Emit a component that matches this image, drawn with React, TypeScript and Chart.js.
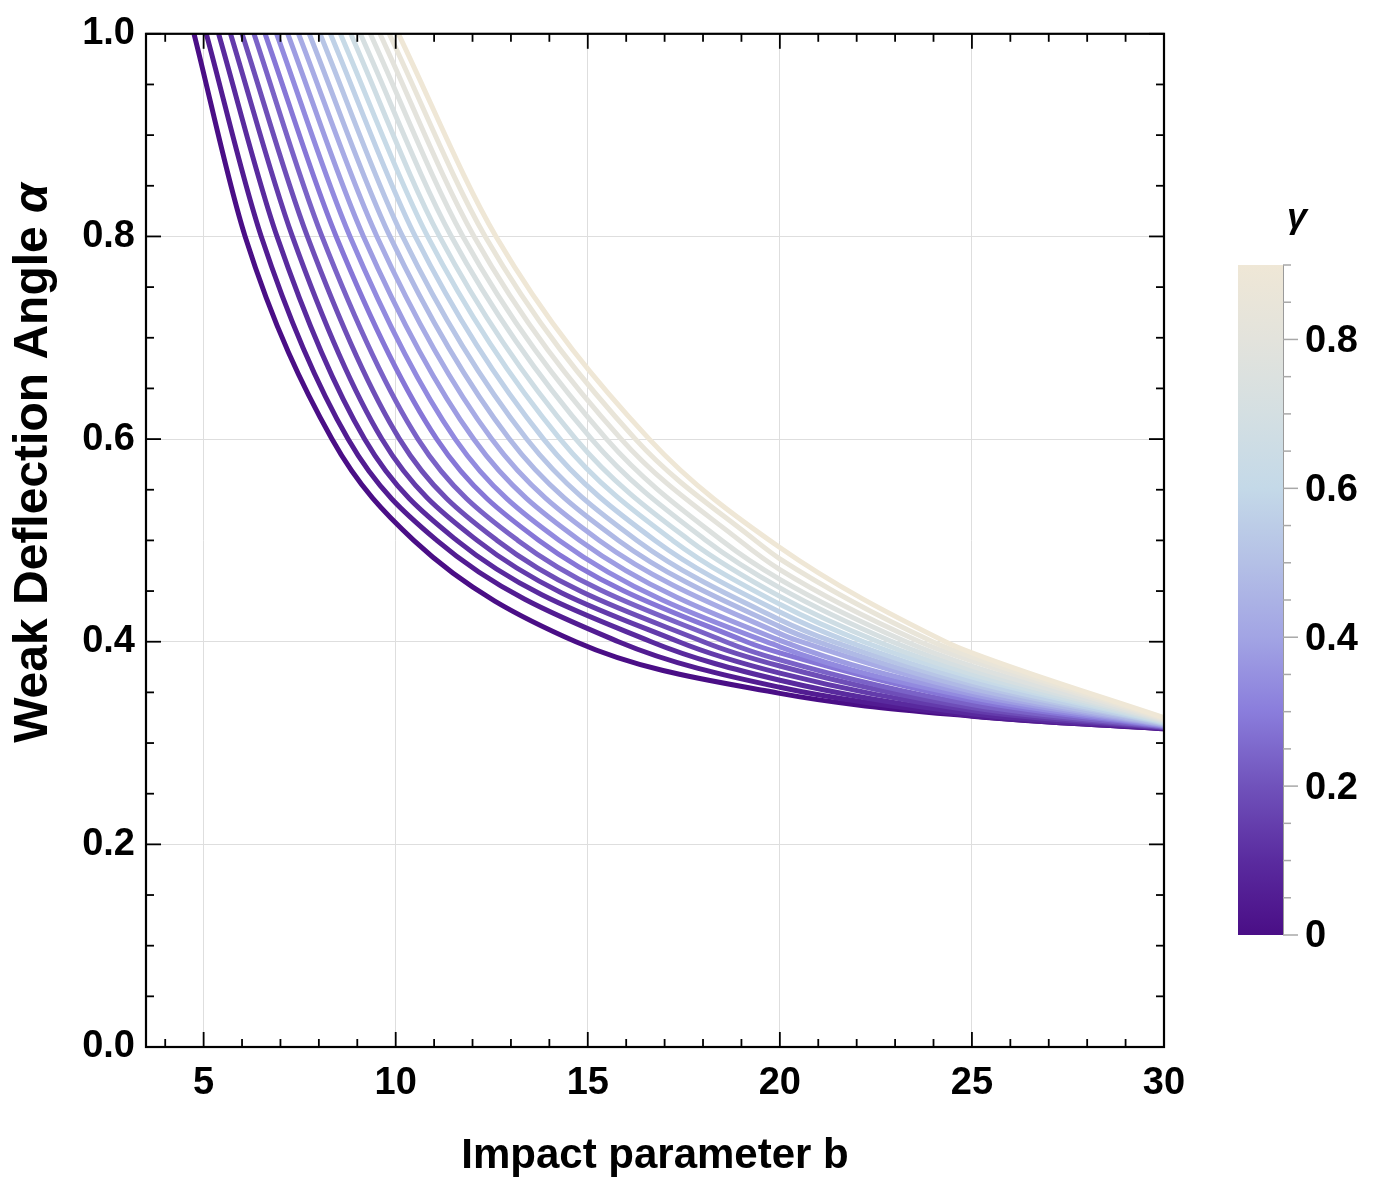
import React, { useEffect, useRef } from "react";
import { Chart, registerables } from "chart.js";

Chart.register(...registerables);

const FONT = '"Liberation Sans", Arial, Helvetica, sans-serif';

// ---- data ----
const gammaValues = [
  0, 0.047, 0.095, 0.142, 0.189, 0.237, 0.284, 0.332, 0.379, 0.426,
  0.474, 0.521, 0.568, 0.616, 0.663, 0.711, 0.758, 0.805, 0.853, 0.9,
];
// impact parameter b where each curve crosses alpha = 1.0, 0.8, 0.6, 0.5, 0.4
const bAtAlpha100 = [4.75, 5.07, 5.39, 5.7, 6.0, 6.31, 6.6, 6.9, 7.19, 7.47, 7.75, 8.03, 8.3, 8.56, 8.83, 9.08, 9.34, 9.59, 9.83, 10.07];
const bAtAlpha080 = [6.08, 6.5, 6.91, 7.31, 7.7, 8.08, 8.45, 8.81, 9.16, 9.51, 9.85, 10.18, 10.51, 10.83, 11.14, 11.45, 11.75, 12.04, 12.33, 12.61];
const bAtAlpha060 = [8.34, 8.76, 9.19, 9.64, 10.1, 10.58, 11.07, 11.55, 12.03, 12.5, 12.96, 13.41, 13.85, 14.28, 14.69, 15.1, 15.49, 15.87, 16.24, 16.6];
const bAtAlpha050 = [10.47, 11.07, 11.59, 12.12, 12.64, 13.18, 13.73, 14.26, 14.79, 15.3, 15.8, 16.28, 16.75, 17.21, 17.65, 18.08, 18.49, 18.95, 19.36, 19.76];
const bAtAlpha040 = [14.69, 15.8, 16.65, 17.37, 18.01, 18.59, 19.13, 19.63, 20.1, 20.55, 20.98, 21.39, 21.79, 22.18, 22.56, 22.93, 23.29, 23.64, 23.98, 24.31];
// alpha of each curve at b = 20, 25, 30
const alphaAtB20 = [0.349, 0.355, 0.362, 0.369, 0.376, 0.382, 0.389, 0.395, 0.4014, 0.408, 0.4149, 0.4218, 0.4293, 0.4369, 0.4448, 0.4532, 0.4616, 0.4711, 0.4818, 0.493];
const alphaAtB25 = [0.3264, 0.327, 0.329, 0.332, 0.335, 0.338, 0.342, 0.345, 0.348, 0.351, 0.354, 0.358, 0.361, 0.365, 0.368, 0.372, 0.376, 0.381, 0.385, 0.389];
const alphaAtB30 = [0.314, 0.3142, 0.3146, 0.315, 0.3154, 0.3159, 0.3164, 0.317, 0.3175, 0.3181, 0.3187, 0.3193, 0.3199, 0.3205, 0.3212, 0.3219, 0.3226, 0.3234, 0.3242, 0.325];

const xMajorTicks = [5, 10, 15, 20, 25, 30];
const xMinorTicks = [4, 6, 7, 8, 9, 11, 12, 13, 14, 16, 17, 18, 19, 21, 22, 23, 24, 26, 27, 28, 29];
const yMajorTicks = [0, 0.2, 0.4, 0.6, 0.8, 1.0];
const yMinorTicks = [0.05, 0.1, 0.15, 0.25, 0.3, 0.35, 0.45, 0.5, 0.55, 0.65, 0.7, 0.75, 0.85, 0.9, 0.95];
const cbMajorTicks = [0, 0.2, 0.4, 0.6, 0.8];
const cbMinorTicks = [0.05, 0.1, 0.15, 0.25, 0.3, 0.35, 0.45, 0.5, 0.55, 0.65, 0.7, 0.75, 0.85, 0.9];
const cbLabels = ["0", "0.2", "0.4", "0.6", "0.8"];
const GAMMA_MIN = 0;
const GAMMA_MAX = 0.9;

// ---- colour map ----
const COLOR_STOPS: [number, string][] = [
  [0.0, "#4a0e86"],
  [0.111, "#5a2b9f"],
  [0.222, "#7052bb"],
  [0.333, "#8a7ddc"],
  [0.444, "#a2a4e4"],
  [0.556, "#b4c0e6"],
  [0.667, "#c4d9e8"],
  [0.778, "#d4dfe2"],
  [0.889, "#e3e3dc"],
  [1.0, "#efe7d6"],
];

function hexToRgb(h: string): number[] {
  const n = parseInt(h.slice(1), 16);
  return [(n >> 16) & 255, (n >> 8) & 255, n & 255];
}

function colorAt(t: number): string {
  const tt = Math.max(0, Math.min(1, t));
  for (let k = 0; k < COLOR_STOPS.length - 1; k++) {
    const [t0, c0] = COLOR_STOPS[k];
    const [t1, c1] = COLOR_STOPS[k + 1];
    if (tt <= t1) {
      const f = (tt - t0) / (t1 - t0);
      const a = hexToRgb(c0);
      const b = hexToRgb(c1);
      const r = a.map((v, j) => Math.round(v + (b[j] - v) * f));
      return `rgb(${r[0]},${r[1]},${r[2]})`;
    }
  }
  return COLOR_STOPS[COLOR_STOPS.length - 1][1];
}

function curvePoints(i: number) {
  const fixed = [
    { x: 20, y: alphaAtB20[i] },
    { x: 25, y: alphaAtB25[i] },
    { x: 30, y: alphaAtB30[i] },
  ];
  const crossings = [
    { x: bAtAlpha100[i], y: 1.0 },
    { x: bAtAlpha080[i], y: 0.8 },
    { x: bAtAlpha060[i], y: 0.6 },
    { x: bAtAlpha050[i], y: 0.5 },
    { x: bAtAlpha040[i], y: 0.4 },
  ].filter((p) => fixed.every((f) => Math.abs(f.x - p.x) > 0.4));
  const pts = [...crossings, ...fixed];
  pts.sort((a, b) => a.x - b.x);
  return pts;
}

const decorPlugin = {
  id: "decor",
  afterDraw(chart: any) {
    const { ctx, chartArea: ca, scales } = chart;
    const xs = scales.x;
    const ys = scales.y;
    ctx.save();

    const line = (x1: number, y1: number, x2: number, y2: number) => {
      ctx.beginPath();
      ctx.moveTo(x1, y1);
      ctx.lineTo(x2, y2);
      ctx.stroke();
    };

    // inward ticks on all four sides
    ctx.strokeStyle = "#000";
    ctx.lineWidth = 1.8;
    const MAJ = 15;
    const MIN = 8;
    xMajorTicks.forEach((v) => {
      const px = xs.getPixelForValue(v);
      line(px, ca.bottom, px, ca.bottom - MAJ);
      line(px, ca.top, px, ca.top + MAJ);
    });
    xMinorTicks.forEach((v) => {
      const px = xs.getPixelForValue(v);
      line(px, ca.bottom, px, ca.bottom - MIN);
      line(px, ca.top, px, ca.top + MIN);
    });
    yMajorTicks.forEach((v) => {
      const py = ys.getPixelForValue(v);
      line(ca.left, py, ca.left + MAJ, py);
      line(ca.right, py, ca.right - MAJ, py);
    });
    yMinorTicks.forEach((v) => {
      const py = ys.getPixelForValue(v);
      line(ca.left, py, ca.left + MIN, py);
      line(ca.right, py, ca.right - MIN, py);
    });

    // frame
    ctx.lineWidth = 2.2;
    ctx.strokeRect(ca.left, ca.top, ca.right - ca.left, ca.bottom - ca.top);

    // colour bar
    const cbLeft = 1238;
    const cbRight = 1283;
    const cbBottom = 935;
    const cbTop = 265;
    const gy = (g: number) => cbBottom - ((g - GAMMA_MIN) / (GAMMA_MAX - GAMMA_MIN)) * (cbBottom - cbTop);
    const grad = ctx.createLinearGradient(0, cbBottom, 0, cbTop);
    COLOR_STOPS.forEach(([t, c]) => grad.addColorStop(t, c));
    ctx.fillStyle = grad;
    ctx.fillRect(cbLeft, cbTop, cbRight - cbLeft, cbBottom - cbTop);
    ctx.strokeStyle = "#9a9a9a";
    ctx.lineWidth = 1;
    line(cbRight + 0.5, cbTop, cbRight + 0.5, cbBottom);
    ctx.strokeStyle = "#a8a8a8";
    ctx.lineWidth = 1.5;
    cbMajorTicks.forEach((g) => line(cbRight, gy(g), cbRight + 15, gy(g)));
    cbMinorTicks.forEach((g) => line(cbRight, gy(g), cbRight + 8, gy(g)));

    ctx.fillStyle = "#000";
    ctx.font = `bold 38px ${FONT}`;
    ctx.textAlign = "left";
    ctx.textBaseline = "middle";
    cbMajorTicks.forEach((g, k) => ctx.fillText(cbLabels[k], 1305, gy(g) + 2));

    ctx.font = `italic bold 36px ${FONT}`;
    ctx.textAlign = "center";
    ctx.textBaseline = "middle";
    ctx.fillText("\u03b3", 1297, 218);

    // x-axis title
    ctx.font = `bold 42px ${FONT}`;
    ctx.textAlign = "center";
    ctx.textBaseline = "alphabetic";
    ctx.fillText("Impact parameter b", (ca.left + ca.right) / 2, 1168);

    // y-axis title (rotated)
    ctx.save();
    ctx.translate(47, 463);
    ctx.rotate(-Math.PI / 2);
    const main = "Weak Deflection Angle ";
    ctx.font = `bold 48px ${FONT}`;
    const w1 = ctx.measureText(main).width;
    ctx.font = `italic bold 48px ${FONT}`;
    const w2 = ctx.measureText("\u03b1").width;
    const start = -(w1 + w2) / 2;
    ctx.textAlign = "left";
    ctx.textBaseline = "alphabetic";
    ctx.font = `bold 48px ${FONT}`;
    ctx.fillText(main, start, 0);
    ctx.font = `italic bold 48px ${FONT}`;
    ctx.fillText("\u03b1", start + w1, 0);
    ctx.restore();

    ctx.restore();
  },
};

export default function App() {
  const ref = useRef<HTMLCanvasElement | null>(null);

  useEffect(() => {
    if (!ref.current) return;
    const order = gammaValues.map((_, i) => i).reverse(); // lightest first => drawn on top
    const datasets = order.map((i) => ({
      label: `gamma=${gammaValues[i]}`,
      data: curvePoints(i),
      borderColor: colorAt((gammaValues[i] - GAMMA_MIN) / (GAMMA_MAX - GAMMA_MIN)),
      backgroundColor: "transparent",
      borderWidth: 5,
      pointRadius: 0,
      fill: false,
      cubicInterpolationMode: "monotone" as const,
      clip: 0,
    }));

    const tickFont = { family: FONT, size: 38, weight: "bold" as const };

    const chart = new Chart(ref.current, {
      type: "line",
      data: { datasets },
      options: {
        animation: false,
        responsive: false,
        devicePixelRatio: 1,
        layout: { padding: { left: 0, right: 220, top: 30, bottom: 0 } },
        plugins: { legend: { display: false }, tooltip: { enabled: false } },
        scales: {
          x: {
            type: "linear",
            min: 3.5,
            max: 30,
            afterBuildTicks: (s: any) => {
              s.ticks = xMajorTicks.map((v) => ({ value: v }));
            },
            afterFit: (s: any) => {
              s.height = 140;
            },
            grid: { color: "#dedede", lineWidth: 1, drawTicks: false },
            border: { display: false },
            ticks: {
              font: tickFont,
              color: "#000",
              padding: 14,
              maxRotation: 0,
              autoSkip: false,
              callback: (v: any) => String(v),
            },
          },
          y: {
            type: "linear",
            min: 0,
            max: 1,
            afterBuildTicks: (s: any) => {
              s.ticks = yMajorTicks.map((v) => ({ value: v }));
            },
            afterFit: (s: any) => {
              s.width = 146;
            },
            grid: { color: "#dedede", lineWidth: 1, drawTicks: false },
            border: { display: false },
            ticks: {
              font: tickFont,
              color: "#000",
              padding: 11,
              autoSkip: false,
              callback: (v: any) => Number(v).toFixed(1),
            },
          },
        },
      },
      plugins: [decorPlugin],
    });
    return () => chart.destroy();
  }, []);

  return (
    <canvas
      ref={ref}
      width={1384}
      height={1187}
      style={{ position: "fixed", left: 0, top: 0, width: 1384, height: 1187, background: "#fff" }}
    />
  );
}
